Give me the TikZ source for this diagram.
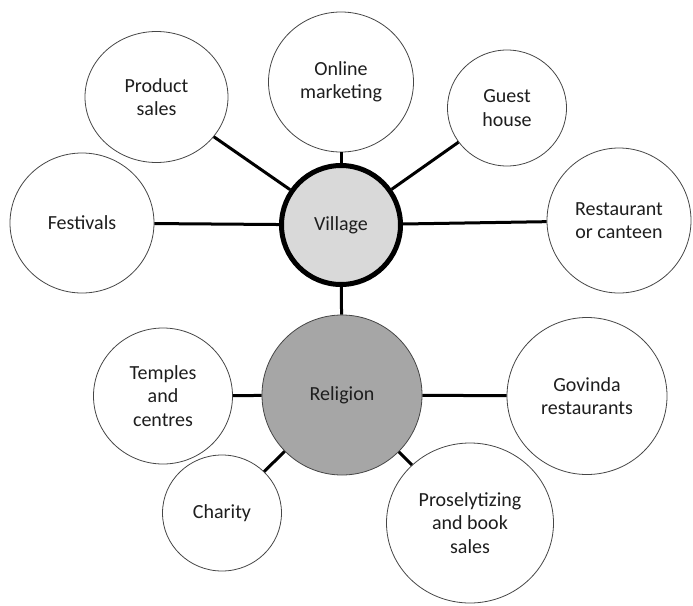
\documentclass[tikz,border=0pt]{standalone}
\usepackage{fontspec}
\setmainfont{Carlito}
\usetikzlibrary{shapes.geometric}
\definecolor{villagefill}{RGB}{217,217,217}
\definecolor{religionfill}{RGB}{166,166,166}
\definecolor{txt}{RGB}{30,30,30}
\definecolor{rim}{RGB}{70,70,70}
\begin{document}
\begin{tikzpicture}[x=1pt,y=-1pt,
  bub/.style={ellipse, draw=rim, line width=0.8pt, fill=white, inner sep=0pt,
    align=center, font=\fontsize{20}{23.5}\selectfont, text=txt},
  link/.style={line width=3pt, black}]
\useasboundingbox (0,0) rectangle (693,605);
\node[bub, minimum width=119pt, minimum height=119pt, fill=villagefill, draw=black, line width=5pt] (village) at (341,225) {Village};
\node[bub, minimum width=160pt, minimum height=160pt, fill=religionfill] (religion) at (342,395) {Religion};
\node[bub, minimum width=143pt, minimum height=131pt] (product) at (156.5,97) {Product\\sales};
\node[bub, minimum width=145pt, minimum height=140pt] (online) at (341,82) {Online\\marketing};
\node[bub, minimum width=119pt, minimum height=116pt] (guest) at (507,108) {Guest\\house};
\node[bub, minimum width=144pt, minimum height=140pt] (fest) at (82,223) {Festivals};
\node[bub, minimum width=144pt, minimum height=145pt] (rest) at (619,220.5) {Restaurant\\or canteen};
\node[bub, minimum width=139pt, minimum height=136pt] (temples) at (163,396) {Temples\\and\\centres};
\node[bub, minimum width=119pt, minimum height=116pt] (charity) at (222,513) {Charity};
\node[bub, minimum width=160pt, minimum height=157pt] (govinda) at (587,396) {Govinda\\restaurants};
\node[bub, minimum width=167pt, minimum height=160pt] (prosel) at (470,523) {Proselytizing\\and book\\sales};
\draw[link] (village) -- (product);
\draw[link] (village) -- (online);
\draw[link] (village) -- (guest);
\draw[link] (village) -- (fest);
\draw[link] (village) -- (rest);
\draw[link] (village) -- (religion);
\draw[link] (religion) -- (temples);
\draw[link] (religion) -- (charity);
\draw[link] (religion) -- (govinda);
\draw[link] (religion) -- (prosel);
\end{tikzpicture}
\end{document}
